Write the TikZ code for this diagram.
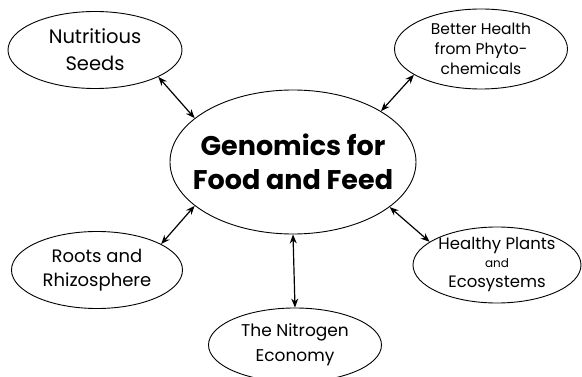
\documentclass[tikz,border=0pt]{standalone}
\usepackage{fontspec}
\setmainfont{Poppins}
\usetikzlibrary{arrows.meta,shapes.geometric}
\definecolor{ink}{RGB}{0,0,0}
\tikzset{
  >={Stealth[length=9pt,width=7pt]},
  topic/.style={ellipse,draw=ink,line width=0.9pt,inner xsep=0pt,inner ysep=-6pt,align=center,
    minimum width=#1,minimum height=77pt},
  topic/.default=172pt,
  hub/.style={ellipse,draw=ink,line width=0.9pt,inner xsep=-22pt,inner ysep=-4pt,align=center,
    minimum width=246pt,minimum height=144pt,font=\fontsize{27}{34}\selectfont\bfseries},
  link/.style={<->,line width=1.2pt,draw=ink},
}
\newcommand{\fs}[2]{\fontsize{#1}{#2}\selectfont}

\begin{document}
\begin{tikzpicture}[x=1pt,y=-1pt]
  \useasboundingbox (0,0) rectangle (582,377);
  \clip (0,0) rectangle (582,377);
  \node[hub] (genomics) at (293,162) {Genomics for\\Food and Feed};
  \node[topic=174pt,font=\fs{19.5}{27}] (seeds) at (95,50) {Nutritious\\Seeds};
  \node[topic=173pt,minimum height=80pt,font=\fs{15.5}{20}] (health) at (481,49) {Better Health\\from Phyto-\\chemicals};
  \node[topic=171pt,font=\fs{18}{24}] (roots) at (97,270) {Roots and\\Rhizosphere};
  \node[topic=168pt,minimum height=76pt,font=\fs{16.5}{20}] (plants) at (497,265)
    {Healthy Plants\\[-2pt]{\fs{12}{12}and}\\Ecosystems};
  \node[topic=173pt,minimum height=74pt,font=\fs{17}{25}] (nitrogen) at (295,345) {The Nitrogen\\Economy};
  % connectors
  \draw[link] (seeds.-23) -- (genomics.156);
  \draw[link] (health.201) -- (genomics.30);
  \draw[link] (roots.22) -- (genomics.204);
  \draw[link] (plants.161) -- (genomics.-25);
  \draw[link] (genomics.south) -- (nitrogen.north);
\end{tikzpicture}
\end{document}
